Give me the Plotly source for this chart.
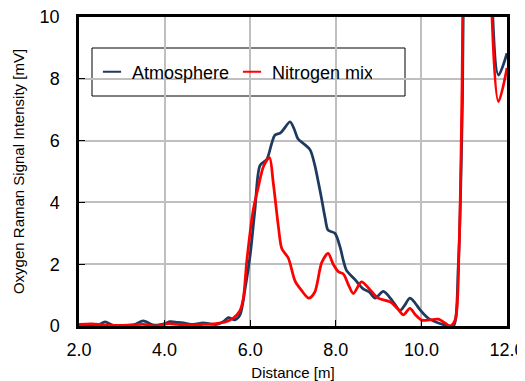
import plotly.graph_objects as go

# Atmosphere series
atm_x = [2.0, 2.3, 2.45, 2.61, 2.8, 3.1, 3.3, 3.5, 3.7, 3.81, 4.0, 4.13, 4.3, 4.44, 4.67, 4.9, 5.05, 5.22,
         5.38, 5.49, 5.64, 5.76, 5.88, 6.0, 6.11, 6.23, 6.39, 6.5, 6.58, 6.70, 6.8, 6.93, 7.02, 7.12, 7.25,
         7.40, 7.51, 7.6, 7.67, 7.75, 7.82, 7.98, 8.10, 8.18, 8.25, 8.45, 8.64, 8.78, 8.92, 9.11, 9.31, 9.50,
         9.6, 9.73, 9.85, 9.97, 10.16, 10.3, 10.43, 10.6, 10.75, 10.86, 10.96, 11.05, 11.3, 11.55, 11.8, 12.0]
atm_y = [0.02, 0.0, 0.03, 0.13, 0.02, 0.0, 0.05, 0.17, 0.05, 0.03, 0.08, 0.14, 0.12, 0.1, 0.05, 0.1, 0.07, 0.05,
         0.15, 0.27, 0.2, 0.35, 1.2, 2.3, 3.75, 5.2, 5.4, 5.9, 6.18, 6.24, 6.4, 6.61, 6.4, 6.05, 5.9,
         5.7, 5.2, 4.6, 4.1, 3.5, 3.1, 3.0, 2.55, 2.1, 1.8, 1.5, 1.2, 1.1, 0.9, 1.12, 0.84, 0.5,
         0.65, 0.9, 0.75, 0.52, 0.25, 0.15, 0.08, 0.02, 0.0, 1.9, 7.3, 20, 30, 15, 8.12, 8.83]

# Nitrogen mix series
n2_x = [2.0, 2.3, 2.6, 3.0, 3.5, 3.8, 4.1, 4.3, 4.6, 4.9, 5.2, 5.4, 5.6, 5.76, 5.84, 5.92, 6.07, 6.19,
        6.31, 6.45, 6.54, 6.66, 6.74, 6.89, 7.05, 7.20, 7.37, 7.51, 7.67, 7.82, 7.94, 8.06, 8.18, 8.29,
        8.41, 8.60, 8.80, 8.99, 9.27, 9.45, 9.58, 9.73, 9.87, 10.01, 10.2, 10.40, 10.55, 10.67, 10.79,
        10.88, 10.95, 11.05, 11.3, 11.55, 11.8, 12.0]
n2_y = [0.05, 0.07, 0.03, 0.02, 0.05, 0.0, 0.08, 0.05, 0.03, 0.05, 0.08, 0.12, 0.25, 0.5, 0.9, 2.1, 3.75, 4.5,
        5.16, 5.45, 4.62, 3.2, 2.5, 2.2, 1.45, 1.15, 0.9, 1.1, 2.05, 2.35, 2.0, 1.76, 1.68, 1.35,
        1.05, 1.43, 1.17, 0.9, 0.78, 0.55, 0.36, 0.57, 0.35, 0.19, 0.2, 0.22, 0.1, 0.0, 0.2,
        2.5, 7.8, 20, 30, 14, 7.26, 8.35]

x_ticks = [2, 4, 6, 8, 10, 12]
x_tick_labels = ["2.0", "4.0", "6.0", "8.0", "10.0", "12.0"]
y_ticks = [0, 2, 4, 6, 8, 10]

NAVY = "#1F3A60"
RED = "#FF0000"
FONT = "Arial, Liberation Sans, sans-serif"

# the page body adds an 8px margin; the figure is sized so the plot area lands
# at x 79..507, y 17..326 in the 525x381 window
W, H = 517, 373
ML, MR, MT, MB = 71, 18, 9, 55
PW, PH = W - ML - MR, H - MT - MB
X0, Y1 = 79, 326  # absolute plot-area left / bottom


def px(x):
    return (x - X0) / PW


def py(y):
    return (Y1 - y) / PH


fig = go.Figure()
fig.add_trace(go.Scatter(x=atm_x, y=atm_y, mode="lines", name="Atmosphere",
                         line=dict(color=NAVY, width=2.75, shape="spline", smoothing=0.8),
                         showlegend=False))
fig.add_trace(go.Scatter(x=n2_x, y=n2_y, mode="lines", name="Nitrogen mix",
                         line=dict(color=RED, width=2.75, shape="spline", smoothing=0.8),
                         showlegend=False))
# legend entries with short dash symbols
fig.add_trace(go.Scatter(x=[None], y=[None], mode="markers", name="Atmosphere",
                         marker=dict(symbol="line-ew-open", size=13, color=NAVY,
                                     line=dict(color=NAVY, width=2))))
fig.add_trace(go.Scatter(x=[None], y=[None], mode="markers", name="Nitrogen mix",
                         marker=dict(symbol="line-ew-open", size=13, color=RED,
                                     line=dict(color=RED, width=2))))

# legend frame
fig.add_shape(type="rect", xref="paper", yref="paper",
              x0=px(92), x1=px(405), y0=py(96), y1=py(48),
              line=dict(color="black", width=1), fillcolor="white", layer="below")

fig.update_layout(
    width=W, height=H,
    margin=dict(l=ML, r=MR, t=MT, b=MB),
    paper_bgcolor="white", plot_bgcolor="white",
    font=dict(family=FONT, color="black"),
    legend=dict(orientation="h", x=px(92), y=py(72),
                xanchor="left", yanchor="middle",
                bgcolor="rgba(0,0,0,0)", borderwidth=0,
                font=dict(size=18, family=FONT), itemwidth=30,
                entrywidth=95, entrywidthmode="pixels"),
    xaxis=dict(range=[2, 12], tickvals=x_ticks, ticktext=x_tick_labels,
               showgrid=True, gridcolor="#BFBFBF", gridwidth=1.5,
               showline=True, linecolor="black", linewidth=2.5, mirror=True,
               ticks="inside", ticklen=6, tickcolor="black", ticklabelstandoff=6,
               ticklabeloverflow="allow",
               tickfont=dict(size=18), zeroline=False, automargin=False,
               title=dict(text="Distance [m]", font=dict(size=15), standoff=10)),
    yaxis=dict(range=[0, 10], tickvals=y_ticks,
               showgrid=True, gridcolor="#BFBFBF", gridwidth=1.5,
               showline=True, linecolor="black", linewidth=2.5, mirror=True,
               ticks="inside", ticklen=6, tickcolor="black", ticklabelstandoff=13,
               ticklabeloverflow="allow",
               tickfont=dict(size=18), zeroline=False, automargin=False,
               title=dict(text="Oxygen Raman Signal Intensity [mV]", font=dict(size=15), standoff=12)),
)

fig.write_html("out.html")
